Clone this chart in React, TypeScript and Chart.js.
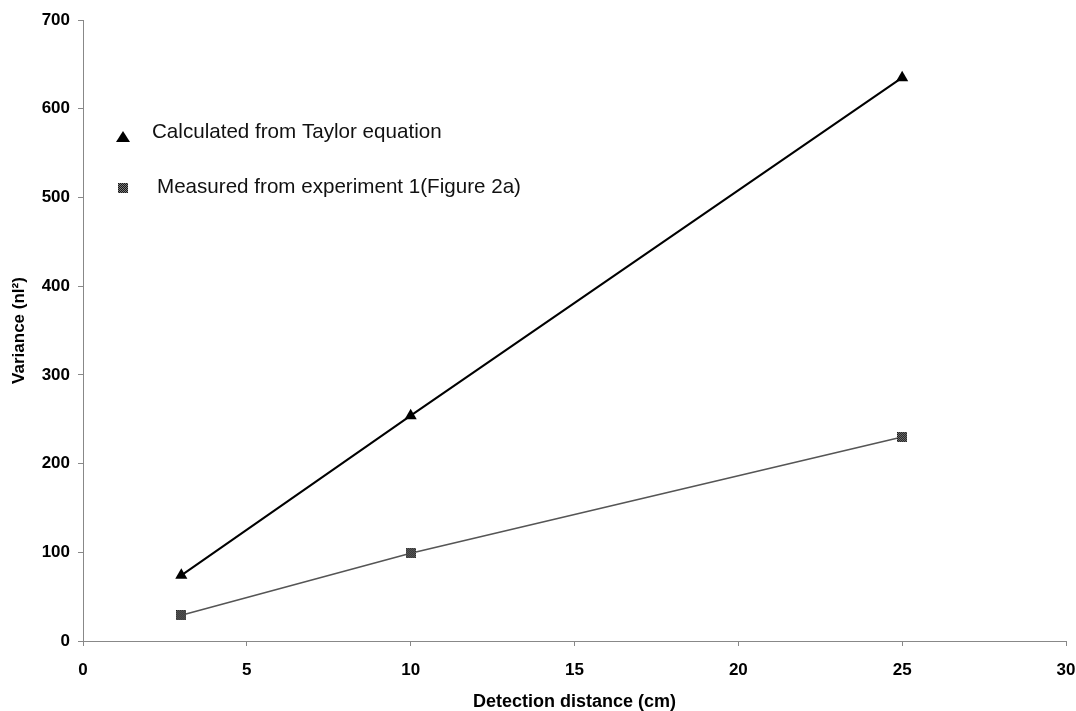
import React, { useEffect, useRef } from 'react';
import { Chart, registerables } from 'chart.js';

Chart.register(...registerables);

const xValues = [3, 10, 25];
const taylorValues = [74, 254, 635];
const measuredValues = [29, 99, 230];
const seriesLabels = ['Calculated from Taylor equation', 'Measured from experiment 1(Figure 2a)'];
const xTitle = 'Detection distance (cm)';
const yTitle = 'Variance (nl\u00B2)';
const xMin = 0, xMax = 30, xStep = 5;
const yMin = 0, yMax = 700, yStep = 100;

function makeSquareMarker(): HTMLCanvasElement {
  const c = document.createElement('canvas');
  c.width = 10;
  c.height = 10;
  const g = c.getContext('2d')!;
  for (let i = 0; i < 10; i++) {
    for (let j = 0; j < 10; j++) {
      g.fillStyle = (i + j) % 2 === 0 ? '#181818' : '#7a7a7a';
      g.fillRect(i, j, 1, 1);
    }
  }
  return c;
}

export default function App() {
  const ref = useRef<HTMLCanvasElement | null>(null);

  useEffect(() => {
    const canvas = ref.current;
    if (!canvas) return;
    const sq = makeSquareMarker();

    const legendPlugin = {
      id: 'customLegend',
      afterDraw(chart: any) {
        const ctx = chart.ctx;
        ctx.save();
        ctx.fillStyle = '#000';
        ctx.beginPath();
        ctx.moveTo(123, 131);
        ctx.lineTo(130, 142);
        ctx.lineTo(116, 142);
        ctx.closePath();
        ctx.fill();
        ctx.drawImage(sq, 118, 183);
        ctx.font = '20.6px "Liberation Sans", Arial, sans-serif';
        ctx.fillStyle = '#111';
        ctx.textBaseline = 'middle';
        ctx.textAlign = 'left';
        ctx.fillText(seriesLabels[0], 152, 132);
        ctx.fillText(seriesLabels[1], 157, 187);
        ctx.restore();
      },
    };

    const tickFont = { family: '"Liberation Sans", Arial, sans-serif', size: 17, weight: 'bold' as const };
    const xTitleFont = { family: '"Liberation Sans", Arial, sans-serif', size: 18, weight: 'bold' as const, lineHeight: 1 };
    const yTitleFont = { family: '"Liberation Sans", Arial, sans-serif', size: 17, weight: 'bold' as const, lineHeight: 1 };

    const chart = new Chart(canvas, {
      type: 'line',
      data: {
        datasets: [
          {
            label: seriesLabels[0],
            data: xValues.map((x, i) => ({ x, y: taylorValues[i] })),
            borderColor: '#000',
            borderWidth: 2,
            backgroundColor: '#000',
            pointStyle: 'triangle',
            pointRadius: 7,
            pointBorderWidth: 0,
            pointBackgroundColor: '#000',
            tension: 0,
          },
          {
            label: seriesLabels[1],
            data: xValues.map((x, i) => ({ x, y: measuredValues[i] })),
            borderColor: '#555',
            borderWidth: 1.6,
            backgroundColor: '#555',
            pointStyle: sq as any,
            pointRadius: 5,
            tension: 0,
          },
        ],
      },
      options: {
        animation: false,
        responsive: false,
        maintainAspectRatio: false,
        layout: { padding: { top: 20, right: 10, left: 0, bottom: 0 } },
        plugins: {
          legend: { display: false },
          tooltip: { enabled: false },
        },
        scales: {
          x: {
            type: 'linear',
            min: xMin,
            max: xMax,
            afterFit: (s: any) => { s.height = 70; s.paddingRight = 0; s.paddingLeft = 0; },
            ticks: { stepSize: xStep, color: '#000', font: tickFont, padding: 14, maxRotation: 0 },
            grid: { drawOnChartArea: false, drawTicks: true, tickLength: 5, color: '#888' },
            border: { display: true, color: '#888', width: 1 },
            title: { display: true, text: xTitle, color: '#000', font: xTitleFont, padding: { top: 0, bottom: 0 } },
          },
          y: {
            type: 'linear',
            min: yMin,
            max: yMax,
            afterFit: (s: any) => { s.width = 83; s.paddingTop = 0; s.paddingBottom = 0; },
            ticks: { stepSize: yStep, color: '#000', font: tickFont, padding: 8 },
            grid: { drawOnChartArea: false, drawTicks: true, tickLength: 5, color: '#888' },
            border: { display: true, color: '#888', width: 1 },
            title: { display: true, text: yTitle, color: '#000', font: yTitleFont, padding: { top: 10.5, bottom: 0 } },
          },
        },
      },
      plugins: [legendPlugin],
    });
    return () => chart.destroy();
  }, []);

  return (
    <div style={{ position: 'fixed', left: 0, top: 0, width: 1076, height: 711, background: '#fff' }}>
      <canvas ref={ref} width={1076} height={711} style={{ width: 1076, height: 711 }} />
    </div>
  );
}
